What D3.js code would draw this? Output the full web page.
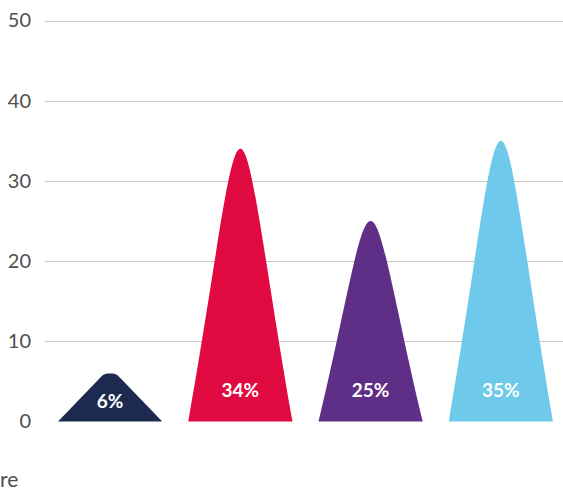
<!DOCTYPE html>
<html>
<head>
<meta charset="utf-8">
<script src="https://cdn.jsdelivr.net/npm/d3@7"></script>
<style>
  html, body { margin: 0; padding: 0; background: #ffffff; }
  svg { display: block; }
</style>
</head>
<body>
<div id="chart"></div>
<script>
// Chart data
const categories = ["Group A", "Group B", "Group C", "Group D"];
const values = [6, 34, 25, 35];
const valueLabels = ["6%", "34%", "25%", "35%"];
const colors = ["#1d2a4f", "#e00a40", "#5f2e86", "#6ec9ea"];
const yTicks = [0, 10, 20, 30, 40, 50];
const footnote = "re";

const width = 563, height = 490;
const margin = { left: 45, right: -3, top: 20.5, bottom: 68.5 };

const svg = d3.select("#chart").append("svg")
  .attr("width", width)
  .attr("height", height);

const x = d3.scaleBand()
  .domain(categories)
  .range([margin.left, width - margin.right])
  .paddingInner(0.2)
  .paddingOuter(0.1);

const y = d3.scaleLinear()
  .domain([0, 50])
  .range([height - margin.bottom, margin.top]);

// Horizontal gridlines (baseline left out)
svg.append("g")
  .selectAll("line")
  .data(yTicks.filter(d => d !== 0))
  .join("line")
  .attr("x1", margin.left)
  .attr("x2", width)
  .attr("y1", d => Math.round(y(d)) + 0.5)
  .attr("y2", d => Math.round(y(d)) + 0.5)
  .attr("stroke", "#c6c6c6")
  .attr("stroke-width", 1);

// Y axis labels
const yAxis = d3.axisLeft(y).tickValues(yTicks).tickSize(0).tickPadding(0);
const yAxisG = svg.append("g")
  .attr("transform", "translate(31,0)")
  .call(yAxis);
yAxisG.select(".domain").remove();
yAxisG.selectAll("text")
  .attr("fill", "#4f4f4f")
  .style("font-family", "Lato, 'Open Sans', sans-serif")
  .style("font-size", "20px");

// Peak-shaped bars. Short peaks: straight flanks with a small rounded cap.
// Tall peaks: one smooth cubic per flank, gently convex up to the crest.
// Offsets are (u = distance from centre, v = depth below the top).
function peakPath(x0, w, yBase, yTop) {
  const hw = w / 2;
  const cx = x0 + hw;
  const H = yBase - yTop;
  const k = Math.max(0, Math.min(1, (H - 48) / (200 - 48)));
  const lerp = (a, b) => a + (b - a) * k;

  // short-peak form
  const qu0 = 0.2 * hw, qv0 = 0.1 * H;
  const slope0 = (hw - qu0) / (H - qv0);
  const d0 = 0.65 * qv0;
  const s = {
    q: [qu0, qv0],
    c1: [qu0 - slope0 * d0, qv0 - d0],
    c2: [0.65 * qu0, 0]
  };
  // tall-peak form
  const t = {
    q: [hw, H],
    c1: [0.446 * hw, 0.4 * H],
    c2: [0.23 * hw, 0]
  };
  const q = [lerp(s.q[0], t.q[0]), lerp(s.q[1], t.q[1])];
  const c1 = [lerp(s.c1[0], t.c1[0]), lerp(s.c1[1], t.c1[1])];
  const c2 = [lerp(s.c2[0], t.c2[0]), lerp(s.c2[1], t.c2[1])];

  const p = d3.path();
  p.moveTo(x0, yBase);
  p.lineTo(cx - q[0], yTop + q[1]);
  p.bezierCurveTo(cx - c1[0], yTop + c1[1], cx - c2[0], yTop + c2[1], cx, yTop);
  p.bezierCurveTo(cx + c2[0], yTop + c2[1], cx + c1[0], yTop + c1[1], cx + q[0], yTop + q[1]);
  p.lineTo(x0 + w, yBase);
  p.closePath();
  return p.toString();
}

const bars = categories.map((c, i) => ({ cat: c, value: values[i], label: valueLabels[i], color: colors[i] }));

svg.append("g")
  .selectAll("path")
  .data(bars)
  .join("path")
  .attr("d", d => peakPath(x(d.cat), x.bandwidth(), y(0), y(d.value)))
  .attr("fill", d => d.color);

// Value labels inside the bars
svg.append("g")
  .selectAll("text")
  .data(bars)
  .join("text")
  .attr("x", d => x(d.cat) + x.bandwidth() / 2)
  .attr("y", d => Math.max(y(4), (y(d.value) + y(0)) / 2 + 3))
  .attr("text-anchor", "middle")
  .attr("dominant-baseline", "central")
  .attr("fill", "#ffffff")
  .style("font-family", "Lato, 'Open Sans', sans-serif")
  .style("font-weight", "700")
  .style("font-size", "19px")
  .text(d => d.label);

// Footnote text at the bottom left
svg.append("text")
  .attr("x", 0)
  .attr("y", 487)
  .attr("fill", "#4f4f4f")
  .style("font-family", "Lato, 'Open Sans', sans-serif")
  .style("font-size", "21px")
  .text(footnote);
</script>
</body>
</html>
